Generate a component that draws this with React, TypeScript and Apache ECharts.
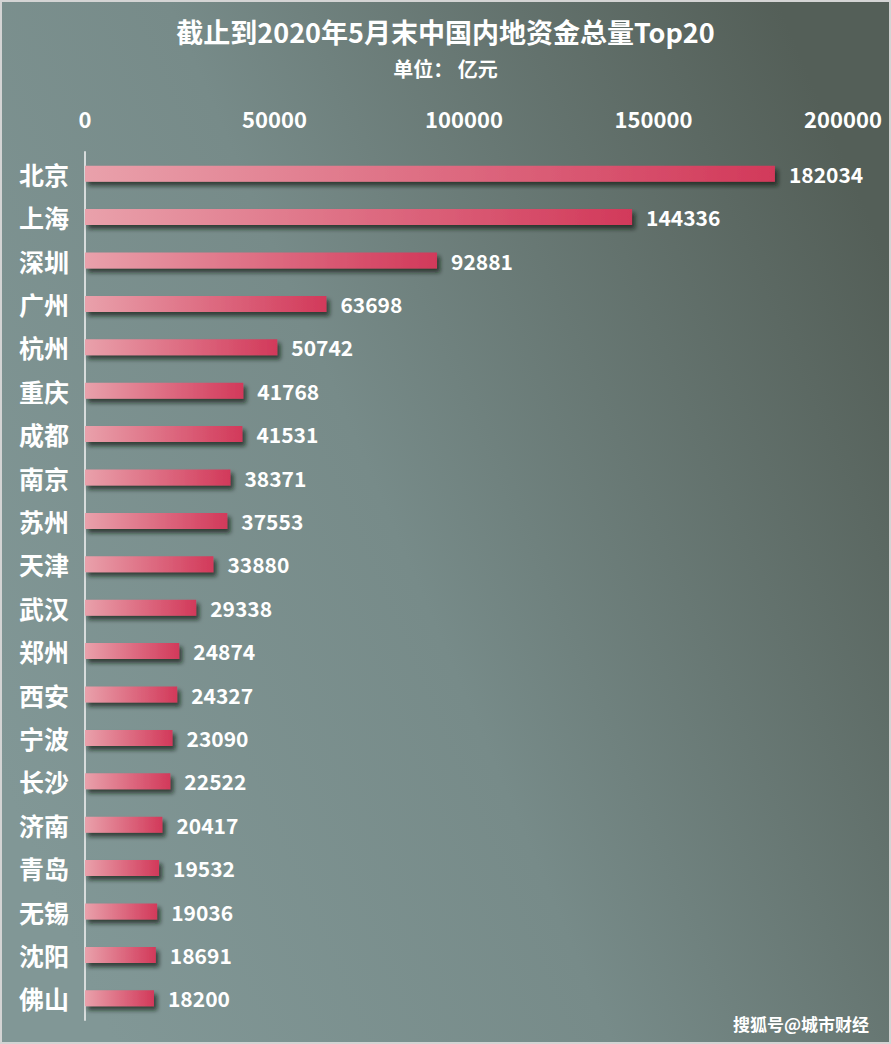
import React, { useEffect, useRef } from "react";
import * as echarts from "echarts";

const cities = ["北京", "上海", "深圳", "广州", "杭州", "重庆", "成都", "南京", "苏州", "天津", "武汉", "郑州", "西安", "宁波", "长沙", "济南", "青岛", "无锡", "沈阳", "佛山"];
const values = [182034, 144336, 92881, 63698, 50742, 41768, 41531, 38371, 37553, 33880, 29338, 24874, 24327, 23090, 22522, 20417, 19532, 19036, 18691, 18200];
const titleText = "截止到2020年5月末中国内地资金总量Top20";
const subText = "单位： 亿元";
const watermark = "搜狐号@城市财经";

const FONT = "'Noto Sans CJK SC', 'Noto Sans', sans-serif";

export default function App() {
  const ref = useRef<HTMLDivElement>(null);
  useEffect(() => {
    if (!ref.current) return;
    const chart = echarts.init(ref.current, undefined, { renderer: "svg" });
    chart.setOption({
      animation: false,
      backgroundColor: new echarts.graphic.LinearGradient(0, 0.75, 1, 0.25, [
        { offset: 0, color: "#819796" },
        { offset: 0.45, color: "#778b89" },
        { offset: 1, color: "#545f58" },
      ]),
      title: [
        {
          text: titleText,
          left: "center",
          top: 14,
          padding: 0,
          textStyle: { color: "#ffffff", fontSize: 27, fontWeight: "bold", fontFamily: FONT, lineHeight: 30 },
        },
        {
          text: subText,
          left: "center",
          top: 55,
          padding: 0,
          textStyle: { color: "#ffffff", fontSize: 20, fontWeight: "bold", fontFamily: FONT, lineHeight: 22 },
        },
      ],
      grid: { left: 83, right: 46, top: 150, bottom: 22, containLabel: false },
      xAxis: {
        type: "value",
        position: "top",
        min: 0,
        max: 200000,
        interval: 50000,
        splitLine: { show: false },
        axisLine: { show: false },
        axisTick: { show: false },
        axisLabel: {
          color: "#ffffff",
          fontSize: 22,
          fontWeight: "bold",
          fontFamily: FONT,
          margin: 23,
          formatter: (v: number) => String(v),
        },
      },
      yAxis: {
        type: "category",
        inverse: true,
        data: cities,
        axisLine: { show: true, lineStyle: { color: "#d8dcdc", width: 2 } },
        axisTick: { show: false },
        axisLabel: {
          color: "#ffffff",
          fontSize: 25,
          fontWeight: "bold",
          fontFamily: FONT,
          margin: 16,
        },
      },
      series: [
        {
          type: "bar",
          data: values,
          barWidth: 16,
          itemStyle: {
            color: new echarts.graphic.LinearGradient(0, 0, 1, 0, [
              { offset: 0, color: "#e9a1ab" },
              { offset: 1, color: "#d2395a" },
            ]),
            shadowColor: "rgba(20,30,25,0.7)",
            shadowBlur: 4,
            shadowOffsetX: 3,
            shadowOffsetY: 4,
          },
          label: {
            show: true,
            position: "right",
            distance: 14,
            color: "#ffffff",
            fontSize: 21,
            fontWeight: "bold",
            fontFamily: FONT,
          },
        },
      ],
      graphic: [
        {
          type: "text",
          right: 20,
          bottom: 10,
          style: {
            text: watermark,
            fill: "#ffffff",
            fontSize: 17,
            fontWeight: "bold",
            fontFamily: FONT,
            shadowColor: "rgba(0,0,0,0.8)",
            shadowOffsetX: 2,
            shadowOffsetY: 2,
            shadowBlur: 1,
          },
        },
      ],
    });
    return () => chart.dispose();
  }, []);
  return (
    <div
      style={{
        position: "absolute",
        left: 0,
        top: 0,
        width: 891,
        height: 1044,
        boxSizing: "border-box",
        border: "2px solid #d4d4d4",
        background: "#d4d4d4",
      }}
    >
      <div ref={ref} style={{ width: 887, height: 1040 }} />
    </div>
  );
}
